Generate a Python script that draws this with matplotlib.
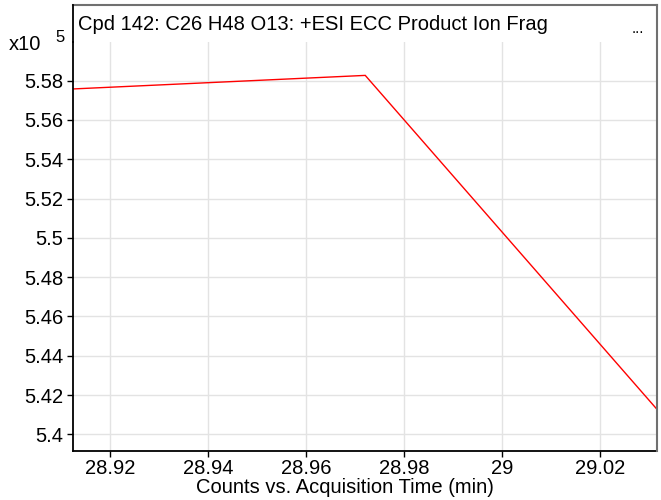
import matplotlib
matplotlib.use("Agg")
import matplotlib.pyplot as plt
from matplotlib.lines import Line2D

# Data (counts in units of 1e5)
times = [28.9125, 28.9721, 29.0316]
counts = [5.5758, 5.5827, 5.4127]
xticks = [28.92, 28.94, 28.96, 28.98, 29.0, 29.02]
xticklabels = ["28.92", "28.94", "28.96", "28.98", "29", "29.02"]
yticks = [5.40, 5.42, 5.44, 5.46, 5.48, 5.50, 5.52, 5.54, 5.56, 5.58]
yticklabels = ["5.4", "5.42", "5.44", "5.46", "5.48", "5.5", "5.52", "5.54", "5.56", "5.58"]
title = "Cpd 142: C26 H48 O13: +ESI ECC Product Ion Frag"
xlabel = "Counts vs. Acquisition Time (min)"

plt.rcParams['font.family'] = ['Liberation Sans', 'DejaVu Sans']

W, H = 661, 500
fig = plt.figure(figsize=(W/100, H/100), dpi=100)

left, right = 73, 657
top_frame, top_plot, bottom = 5, 42, 451
ax = fig.add_axes([left/W, 1 - bottom/H, (right-left)/W, (bottom-top_plot)/H])

ax.plot(times, counts, color='#ff0000', lw=1.0, solid_joinstyle='miter')
ax.set_xlim(28.9125, 29.0316)
ax.set_ylim(5.3915, 5.5997)
ax.set_xticks(xticks)
ax.set_xticklabels(xticklabels)
ax.set_yticks(yticks)
ax.set_yticklabels(yticklabels)
ax.grid(True, color='#e3e3e3', lw=1.0)
ax.set_axisbelow(True)
ax.tick_params(axis='both', direction='out', length=4, width=1, color='black',
               labelsize=14.5, pad=3)
ax.tick_params(axis='x', pad=2)
for s in ['top', 'right']:
    ax.spines[s].set_visible(False)
for s in ['left', 'bottom']:
    ax.spines[s].set_color('black')
    ax.spines[s].set_linewidth(1.3)

# Frame lines (gray top and right border, left spine extends to top)
fx = lambda px: px / W
fy = lambda py: 1 - py / H
fig.add_artist(Line2D([fx(left), fx(right)], [fy(top_frame), fy(top_frame)],
                      color='#707070', lw=1.5, transform=fig.transFigure))
fig.add_artist(Line2D([fx(right), fx(right)], [fy(top_frame), fy(bottom)],
                      color='#707070', lw=1.5, transform=fig.transFigure))
fig.add_artist(Line2D([fx(left), fx(left)], [fy(top_frame), fy(top_plot)],
                      color='black', lw=1.3, transform=fig.transFigure))

fig.text(fx(78), fy(25), title, fontsize=14.5, va='center', ha='left')
fig.text(fx(644), fy(29), "...", fontsize=11, va='center', ha='right')
fig.text(fx(9), fy(44), "x10", fontsize=14.5, va='center', ha='left')
fig.text(fx(55), fy(37), "5", fontsize=12, va='center', ha='left')
fig.text(fx(345), fy(493), xlabel, fontsize=14.5, va='baseline', ha='center')

fig.savefig("out.png", dpi=100)
